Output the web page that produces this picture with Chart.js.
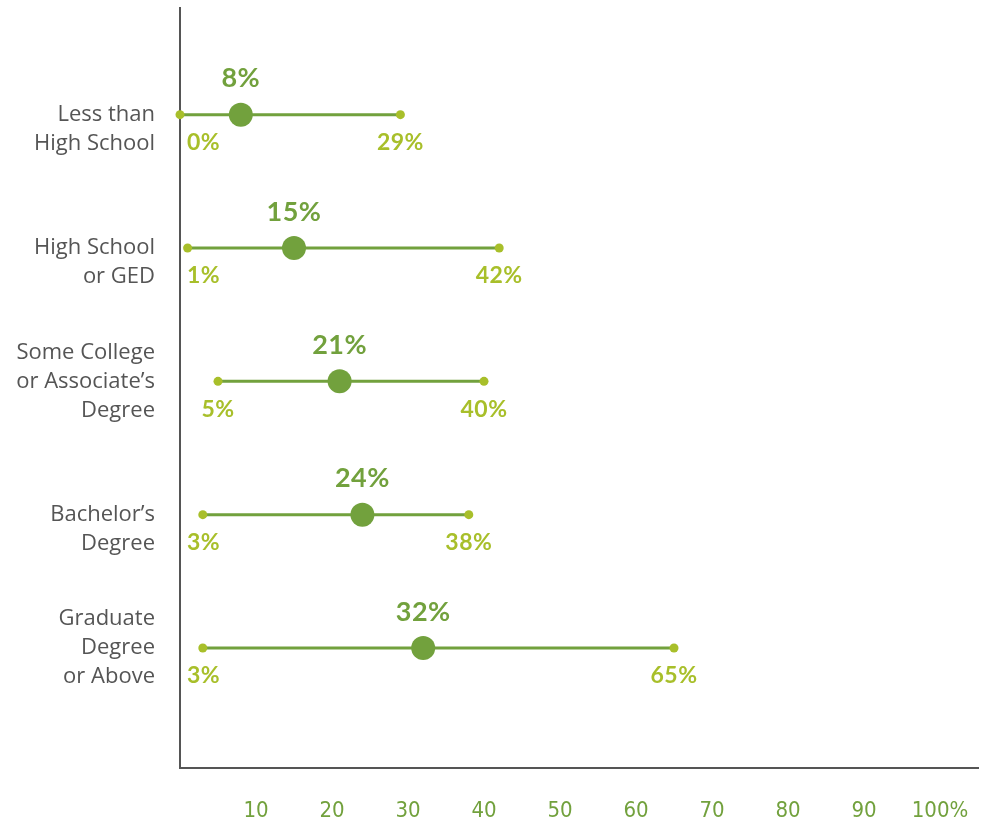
<!DOCTYPE html>
<html>
<head>
<meta charset="utf-8">
<script src="https://cdn.jsdelivr.net/npm/chart.js@4"></script>
<style>
  html, body { margin: 0; padding: 0; background: #fff; }
  #wrap { width: 981px; height: 826px; }
</style>
</head>
<body>
<div id="wrap"><canvas id="rangeChart" width="981" height="826"></canvas></div>
<script>
var categories = [
  ["Less than", "High School"],
  ["High School", "or GED"],
  ["Some College", "or Associate\u2019s", "Degree"],
  ["Bachelor\u2019s", "Degree"],
  ["Graduate", "Degree", "or Above"]
];
var lowValues = [0, 1, 5, 3, 3];
var meanValues = [8, 15, 21, 24, 32];
var highValues = [29, 42, 40, 38, 65];
var xTicks = [10, 20, 30, 40, 50, 60, 70, 80, 90, 100];

var darkGreen = "#72a13d";
var lightGreen = "#a8bf2a";

// range lines: low -> high per row, broken by null gaps
var rangePoints = [];
for (var i = 0; i < categories.length; i++) {
  rangePoints.push({x: lowValues[i], y: i});
  rangePoints.push({x: highValues[i], y: i});
  rangePoints.push({x: null, y: i});
}
var meanPoints = meanValues.map(function (v, i) { return {x: v, y: i}; });

var labelPlugin = {
  id: 'rangeLabels',
  afterDatasetsDraw: function (chart) {
    var c = chart.ctx;
    var xs = chart.scales.x, ys = chart.scales.y;
    c.save();
    c.textAlign = 'center';
    c.textBaseline = 'middle';
    for (var i = 0; i < categories.length; i++) {
      var y = ys.getPixelForValue(i);
      c.font = "bold 27px Lato";
      c.letterSpacing = "0.5px";
      c.fillStyle = darkGreen;
      c.fillText(meanValues[i] + "%", xs.getPixelForValue(meanValues[i]), y - 36);

      c.font = "bold 23px Lato";
      c.fillStyle = lightGreen;
      var lowText = lowValues[i] + "%";
      var w = c.measureText(lowText).width;
      var lx = Math.max(xs.getPixelForValue(lowValues[i]), chart.chartArea.left + 7 + w / 2);
      c.fillText(lowText, lx, y + 28);
      c.fillText(highValues[i] + "%", xs.getPixelForValue(highValues[i]), y + 28);
    }
    c.restore();
  }
};

var ctx = document.getElementById("rangeChart").getContext('2d');
var myChart = new Chart(ctx, {
  type: 'scatter',
  data: {
    datasets: [{
      data: rangePoints,
      showLine: true,
      spanGaps: false,
      borderColor: darkGreen,
      borderWidth: 3,
      pointRadius: 4.5,
      pointBackgroundColor: lightGreen,
      pointBorderWidth: 0,
      clip: false,
      order: 2
    }, {
      data: meanPoints,
      showLine: false,
      pointRadius: 12,
      pointBackgroundColor: darkGreen,
      pointBorderWidth: 0,
      order: 1
    }]
  },
  options: {
    responsive: false,
    animation: false,
    layout: { autoPadding: false, padding: { top: 8, right: 3, left: 0, bottom: 0 } },
    plugins: { legend: { display: false }, tooltip: { enabled: false } },
    scales: {
      x: {
        type: 'linear',
        min: 0,
        max: 105,
        grid: { display: false, drawTicks: false },
        border: { display: true, color: "#555", width: 2 },
        afterBuildTicks: function (scale) {
          scale.ticks = xTicks.map(function (v) { return {value: v}; });
        },
        afterFit: function (scale) {
          scale.height = 58;
          scale.paddingLeft = 0;
          scale.paddingRight = 0;
        },
        ticks: {
          padding: 30,
          maxRotation: 0,
          autoSkip: false,
          color: darkGreen,
          font: { family: "'Liberation Sans Narrow', 'DejaVu Sans Condensed', Lato", size: 22 },
          callback: function (v) { return v === 100 ? "100%" : String(v); }
        }
      },
      y: {
        type: 'linear',
        min: -0.8,
        max: 4.9,
        reverse: true,
        grid: { display: false, drawTicks: false },
        border: { display: true, color: "#555", width: 2 },
        afterBuildTicks: function (scale) {
          scale.ticks = categories.map(function (c, i) { return {value: i}; });
        },
        afterFit: function (scale) {
          scale.width = 180;
          scale.paddingTop = 0;
          scale.paddingBottom = 0;
        },
        ticks: {
          padding: 25,
          autoSkip: false,
          color: "#555",
          font: { family: "'Open Sans'", size: 22, lineHeight: 1.32 },
          callback: function (v) {
            var lines = categories[v];
            return lines.length === 2 ? [""].concat(lines) : lines;
          }
        }
      }
    }
  },
  plugins: [labelPlugin]
});
</script>
</body>
</html>
